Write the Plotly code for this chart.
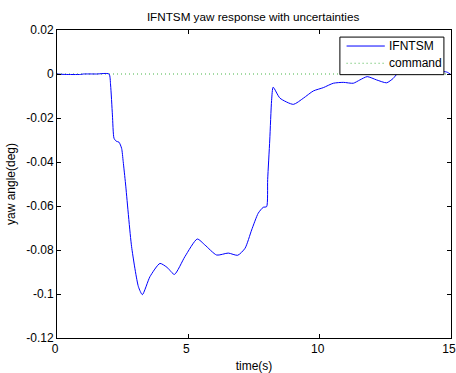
import plotly.graph_objects as go

# time (s) and yaw angle (deg)
time_s = [0.0, 0.3, 0.9, 1.0, 1.5, 1.98, 2.04, 2.11, 2.17, 2.25, 2.36, 2.46, 2.52, 2.61,
          2.84, 3.10, 3.25, 3.54, 3.92, 4.20, 4.47, 4.87, 5.34, 5.63, 6.08, 6.52, 6.88,
          7.16, 7.41, 7.66, 7.85, 7.98, 8.02, 8.10, 8.17, 8.23, 8.49, 9.00, 9.38, 9.76,
          10.14, 10.52, 10.90, 11.28, 11.53, 11.81, 12.17, 12.55, 12.80, 12.95, 13.3,
          13.8, 14.3, 14.7, 14.86, 15.0]
yaw_deg = [0.0, -0.0002, -0.0002, 0.0, 0.0, 0.0, -0.005, -0.0186, -0.0292, -0.0305,
           -0.031, -0.0338, -0.0398, -0.0500, -0.0785, -0.0967, -0.1003, -0.0921,
           -0.0861, -0.0880, -0.0911, -0.0830, -0.0750, -0.0777, -0.0823, -0.0814,
           -0.0824, -0.0792, -0.0709, -0.0633, -0.0606, -0.0603, -0.0480, -0.0300,
           -0.0120, -0.0060, -0.0110, -0.0138, -0.0110, -0.0077, -0.0062, -0.0042,
           -0.0038, -0.0042, -0.0027, -0.0012, -0.0027, -0.0040, -0.0020, 0.0,
           0.0015, 0.0025, 0.0020, 0.0012, 0.0008, -0.0003]
command_t = [0, 15]
command_v = [0, 0]

series_names = ["IFNTSM", "command"]
x_ticks = [0, 5, 10, 15]
y_ticks = [0.02, 0, -0.02, -0.04, -0.06, -0.08, -0.1, -0.12]
y_tick_text = ["0.02", "0", "-0.02", "-0.04", "-0.06", "-0.08", "-0.1", "-0.12"]

FONT = "Liberation Sans, Arial, sans-serif"
BLUE = "#0000ff"
GREEN = "rgb(70,180,70)"
DOT = "1px,3px"

fig = go.Figure()
fig.add_trace(go.Scatter(x=command_t, y=command_v, mode="lines", name=series_names[1],
                         line=dict(color=GREEN, width=1, dash=DOT),
                         showlegend=False))
fig.add_trace(go.Scatter(x=time_s, y=yaw_deg, mode="lines", name=series_names[0],
                         line=dict(color=BLUE, width=1, shape="spline", smoothing=0.6),
                         showlegend=False))

axis_common = dict(showline=True, linecolor="black", linewidth=1, mirror="ticks",
                   ticks="inside", ticklen=4, tickcolor="black", showgrid=False,
                   zeroline=False, ticklabeloverflow="allow", automargin=False,
                   tickfont=dict(family=FONT, size=12, color="black"))

# MATLAB-style legend box (drawn above the curve, like the reference)
shapes = [
    dict(type="rect", xref="paper", yref="paper", x0=0.718, x1=0.982, y0=0.855, y1=0.977,
         fillcolor="white", line=dict(color="black", width=1), layer="above"),
    dict(type="line", xref="paper", yref="paper", x0=0.735, x1=0.832, y0=0.948, y1=0.948,
         line=dict(color=BLUE, width=1), layer="above"),
    dict(type="line", xref="paper", yref="paper", x0=0.735, x1=0.832, y0=0.892, y1=0.892,
         line=dict(color=GREEN, width=1, dash=DOT), layer="above"),
]
annotations = [
    dict(text=series_names[0], xref="paper", yref="paper", x=0.838, y=0.948,
         xanchor="left", yanchor="middle", showarrow=False,
         font=dict(family=FONT, size=12, color="black")),
    dict(text=series_names[1], xref="paper", yref="paper", x=0.838, y=0.892,
         xanchor="left", yanchor="middle", showarrow=False,
         font=dict(family=FONT, size=12, color="black")),
]

fig.update_layout(
    width=456, height=373,
    margin=dict(l=57, r=5, t=30, b=35),
    paper_bgcolor="white", plot_bgcolor="white",
    title=dict(text="IFNTSM yaw response with uncertainties", x=0.555, xanchor="center",
               y=0.955, yanchor="middle",
               font=dict(family=FONT, size=11.7, color="black")),
    xaxis=dict(range=[0, 15], tickvals=x_ticks, ticklabelshift=-2,
               title=dict(text="time(s)", font=dict(family=FONT, size=12, color="black"),
                          standoff=6),
               **axis_common),
    yaxis=dict(range=[-0.12, 0.02], tickvals=y_ticks, ticktext=y_tick_text,
               title=dict(text="yaw angle(deg)", font=dict(family=FONT, size=12, color="black"),
                          standoff=8),
               **axis_common),
    shapes=shapes,
    annotations=annotations,
    showlegend=False,
)

fig.write_html("out.html")
